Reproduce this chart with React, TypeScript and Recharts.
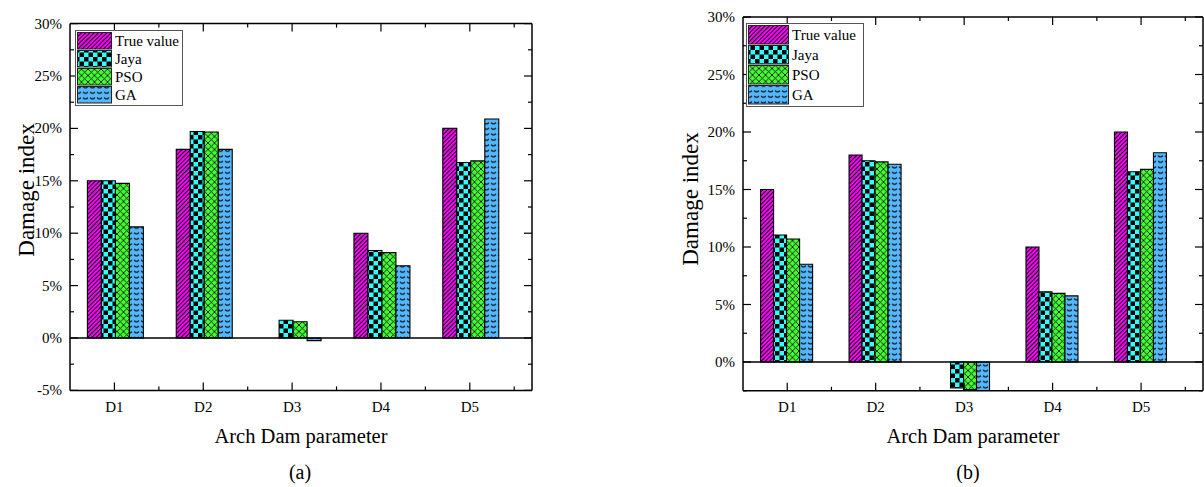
import React from 'react';
import { BarChart, Bar, XAxis, YAxis, ReferenceLine, Legend, Label } from 'recharts';

const categories = ['D1', 'D2', 'D3', 'D4', 'D5'];
const seriesNames = ['True value', 'Jaya', 'PSO', 'GA'];

// Panel (a) values, in %
const trueA = [15, 18, 0, 10, 20];
const jayaA = [15, 19.7, 1.7, 8.35, 16.75];
const psoA = [14.75, 19.65, 1.55, 8.15, 16.9];
const gaA = [10.6, 18, -0.25, 6.9, 20.9];

// Panel (b) values, in %
const trueB = [15, 18, 0, 10, 20];
const jayaB = [11.05, 17.5, -2.25, 6.1, 16.55];
const psoB = [10.7, 17.4, -2.4, 5.97, 16.75];
const gaB = [8.5, 17.2, -2.6, 5.75, 18.2];

const yTicksA = [-5, -2.5, 0, 2.5, 5, 7.5, 10, 12.5, 15, 17.5, 20, 22.5, 25, 27.5, 30];
const yTicksB = [-2.5, 0, 2.5, 5, 7.5, 10, 12.5, 15, 17.5, 20, 22.5, 25, 27.5, 30];
const xTicks = [1, 1.5, 2, 2.5, 3, 3.5, 4, 4.5, 5, 5.5];

const FONT = '"Liberation Serif", "Times New Roman", Times, serif';
const keys = ['t', 'j', 'p', 'g'];
const patIds = ['pat-true', 'pat-jaya', 'pat-pso', 'pat-ga'];

const buildData = (t: number[], j: number[], p: number[], g: number[]) =>
  categories.map((c, i) => ({ cat: c, pos: i + 1, t: t[i], j: j[i], p: p[i], g: g[i] }));

const dataA = buildData(trueA, jayaA, psoA, gaA);
const dataB = buildData(trueB, jayaB, psoB, gaB);

const Patterns = () => (
  <svg width={0} height={0} style={{ position: 'absolute', left: 0, top: 0 }}>
    <defs>
      <pattern id="pat-true" patternUnits="userSpaceOnUse" width={3} height={3} patternTransform="rotate(45)">
        <rect width={3} height={3} fill="#ff00ff" />
        <line x1={0.5} y1={0} x2={0.5} y2={3} stroke="#000" strokeWidth={1} />
      </pattern>
      <pattern id="pat-jaya" patternUnits="userSpaceOnUse" width={9} height={9}>
        <rect width={9} height={9} fill="#33ffff" />
        <rect x={0} y={0} width={4.5} height={4.5} fill="#000" />
        <rect x={4.5} y={4.5} width={4.5} height={4.5} fill="#000" />
      </pattern>
      <pattern id="pat-pso" patternUnits="userSpaceOnUse" width={6.5} height={6.5}>
        <rect width={6.5} height={6.5} fill="#44ff33" />
        <path d="M0,0 L6.5,6.5 M0,6.5 L6.5,0" stroke="#111" strokeWidth={0.9} />
      </pattern>
      <pattern id="pat-ga" patternUnits="userSpaceOnUse" width={7} height={5.5}>
        <rect width={7} height={5.5} fill="#55b8ff" />
        <path d="M1,1.6 q2.5,2.4 5,0" stroke="#111" strokeWidth={1.1} fill="none" />
      </pattern>
    </defs>
  </svg>
);

type Cfg = {
  left: number;
  width: number;
  plotL: number;
  plotR: number;
  plotT: number;
  plotB: number;
  yDomain: number[];
  yTicks: number[];
  catGap: number;
  legX: number;
  legY: number;
  legW: number;
  legH: number;
  swW: number;
  yTitleX: number;
  yTitleY: number;
  caption: string;
  capX: number;
};

const H = 487;

const LegendBox = ({ cfg }: { cfg: Cfg }) => {
  const rowH = (cfg.legH - 4) / 4;
  return (
    <svg width={cfg.legW} height={cfg.legH} style={{ display: 'block', fontFamily: FONT }}>
      <rect x={0.5} y={0.5} width={cfg.legW - 1} height={cfg.legH - 1} fill="#fff" stroke="#555" strokeWidth={1} />
      {seriesNames.map((n, i) => {
        const y = 2 + i * rowH;
        return (
          <g key={n}>
            <rect x={2.5} y={y + 0.5} width={cfg.swW} height={rowH - 1.5} fill={`url(#${patIds[i]})`} stroke="#222" strokeWidth={1} />
            <text x={cfg.swW + 6} y={y + rowH / 2 + 5} fontSize={15} fill="#000">
              {n}
            </text>
          </g>
        );
      })}
    </svg>
  );
};

const Panel = ({ cfg, data }: { cfg: Cfg; data: any[] }) => {
  const plotW = cfg.plotR - cfg.plotL;
  const padR = (plotW * 0.2) / 5.2;
  const axisLine = { stroke: '#000', strokeWidth: 1.5 };

  const bottomTick = (props: any) => {
    const { x, y, payload } = props;
    const v = payload.value;
    const major = Number.isInteger(v);
    return (
      <g>
        <line x1={x} y1={y} x2={x} y2={y - (major ? 8 : 4)} stroke="#000" strokeWidth={1.2} />
        {major && (
          <text x={x} y={y + 21.6} textAnchor="middle" fontSize={15} fill="#000" fontFamily={FONT}>
            {categories[v - 1]}
          </text>
        )}
      </g>
    );
  };
  const topTick = (props: any) => {
    const { x, y, payload } = props;
    const major = Number.isInteger(payload.value);
    return <line x1={x} y1={y} x2={x} y2={y + (major ? 8 : 4)} stroke="#000" strokeWidth={1.2} />;
  };
  const leftTick = (props: any) => {
    const { x, y, payload } = props;
    const v = payload.value;
    const major = v % 5 === 0;
    return (
      <g>
        <line x1={x} y1={y} x2={x + (major ? 8 : 4)} y2={y} stroke="#000" strokeWidth={1.2} />
        {major && (
          <text x={x - 8} y={y + 5} textAnchor="end" fontSize={15} fill="#000" fontFamily={FONT}>
            {`${v}%`}
          </text>
        )}
      </g>
    );
  };
  const rightTick = (props: any) => {
    const { x, y, payload } = props;
    const major = payload.value % 5 === 0;
    return <line x1={x} y1={y} x2={x - (major ? 8 : 4)} y2={y} stroke="#000" strokeWidth={1.2} />;
  };

  return (
    <div style={{ position: 'absolute', left: cfg.left, top: 0, width: cfg.width, height: H, fontFamily: FONT }}>
      <BarChart
        width={cfg.width}
        height={H}
        data={data}
        margin={{
          top: cfg.plotT - 1,
          bottom: H - cfg.plotB - 1,
          left: cfg.plotL - cfg.left - 1,
          right: cfg.left + cfg.width - cfg.plotR - 1,
        }}
        barGap={0}
        barCategoryGap={cfg.catGap}
      >
        <XAxis xAxisId="cat" dataKey="cat" type="category" hide padding={{ left: 0, right: padR }} />
        <XAxis
          xAxisId="bx"
          dataKey="pos"
          type="number"
          orientation="bottom"
          domain={[0.5, 5.7]}
          ticks={xTicks}
          interval={0}
          allowDataOverflow
          height={1}
          tickSize={0}
          tickMargin={0}
          tickLine={false}
          axisLine={axisLine}
          tick={bottomTick}
        >
          <Label
            content={() => (
              <g fontFamily={FONT}>
                <text x={(cfg.plotL + cfg.plotR) / 2 - cfg.left} y={443} textAnchor="middle" fontSize={20.5} fill="#000">
                  Arch Dam parameter
                </text>
                <text x={cfg.capX - cfg.left} y={479} textAnchor="middle" fontSize={20} fill="#000">
                  {cfg.caption}
                </text>
              </g>
            )}
          />
        </XAxis>
        <XAxis
          xAxisId="tx"
          dataKey="pos"
          type="number"
          orientation="top"
          domain={[0.5, 5.7]}
          ticks={xTicks}
          interval={0}
          allowDataOverflow
          height={1}
          tickSize={0}
          tickMargin={0}
          tickLine={false}
          axisLine={axisLine}
          tick={topTick}
        />
        <YAxis
          yAxisId="ly"
          orientation="left"
          type="number"
          domain={cfg.yDomain}
          ticks={cfg.yTicks}
          interval={0}
          allowDataOverflow
          width={1}
          tickSize={0}
          tickMargin={0}
          tickLine={false}
          axisLine={axisLine}
          tick={leftTick}
        >
          <Label
            content={() => (
              <text
                x={cfg.yTitleX - cfg.left}
                y={cfg.yTitleY}
                transform={`rotate(-90 ${cfg.yTitleX - cfg.left} ${cfg.yTitleY})`}
                textAnchor="middle"
                fontSize={23}
                fill="#000"
                fontFamily={FONT}
              >
                Damage index
              </text>
            )}
          />
        </YAxis>
        <YAxis
          yAxisId="ry"
          orientation="right"
          type="number"
          domain={cfg.yDomain}
          ticks={cfg.yTicks}
          interval={0}
          allowDataOverflow
          width={1}
          tickSize={0}
          tickMargin={0}
          tickLine={false}
          axisLine={axisLine}
          tick={rightTick}
        />
        {keys.map((k, i) => (
          <Bar
            key={k}
            xAxisId="cat"
            yAxisId="ly"
            dataKey={k}
            name={seriesNames[i]}
            fill={`url(#${patIds[i]})`}
            stroke="#000"
            strokeWidth={1.1}
            isAnimationActive={false}
          />
        ))}
        <ReferenceLine y={0} xAxisId="cat" yAxisId="ly" stroke="#000" strokeWidth={1.6} />
        <Legend
          layout="vertical"
          align="center"
          verticalAlign="middle"
          wrapperStyle={{ position: 'absolute', left: cfg.legX - cfg.left, top: cfg.legY, width: cfg.legW, height: cfg.legH }}
          content={() => <LegendBox cfg={cfg} />}
        />
      </BarChart>
    </div>
  );
};

const cfgA: Cfg = {
  left: 0,
  width: 600,
  plotL: 70,
  plotR: 532,
  plotT: 23.6,
  plotB: 390.4,
  yDomain: [-5, 30],
  yTicks: yTicksA,
  catGap: 17.4,
  legX: 75,
  legY: 30,
  legW: 108,
  legH: 76,
  swW: 34,
  yTitleX: 34,
  yTitleY: 190,
  caption: '(a)',
  capX: 300,
};

const cfgB: Cfg = {
  left: 604,
  width: 600,
  plotL: 743,
  plotR: 1203,
  plotT: 17,
  plotB: 390.75,
  yDomain: [-2.5, 30],
  yTicks: yTicksB,
  catGap: 17.6,
  legX: 746,
  legY: 23,
  legW: 118,
  legH: 84,
  swW: 40,
  yTitleX: 698,
  yTitleY: 199,
  caption: '(b)',
  capX: 968,
};

export default function App() {
  return (
    <div style={{ position: 'absolute', left: 0, top: 0, width: 1204, height: H, background: '#fff', overflow: 'hidden' }}>
      <Patterns />
      <Panel cfg={cfgA} data={dataA} />
      <Panel cfg={cfgB} data={dataB} />
    </div>
  );
}
